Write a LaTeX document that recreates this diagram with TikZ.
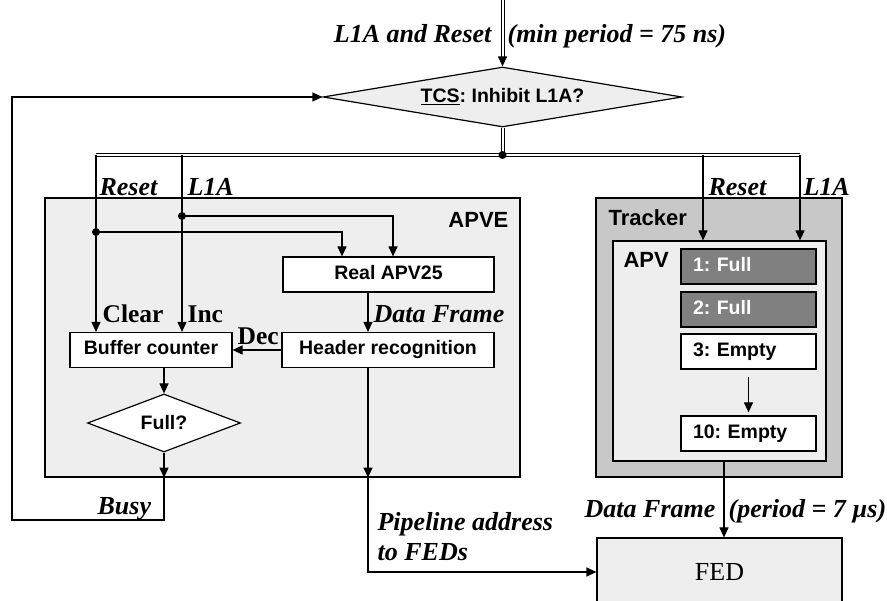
\documentclass[tikz,border=0pt]{standalone}
\usepackage{fontspec}
\setmainfont{Liberation Serif}
\setsansfont{Liberation Sans}
\usetikzlibrary{shapes.geometric,arrows.meta}
\definecolor{lgray}{HTML}{EEEEEE}
\definecolor{mgray}{HTML}{C8C8C8}
\definecolor{dgray}{HTML}{808080}
\begin{document}
\frenchspacing
\begin{tikzpicture}[x=1pt,y=-1pt,
 line width=1.2pt,
 arr/.style={-{Triangle[length=10pt,width=9pt]}},
 dbl/.style={double=white,double distance=2pt,line width=1pt},
 lab/.style={font=\fontsize{26}{28}\selectfont\bfseries\itshape, inner sep=0},
 ulab/.style={font=\fontsize{25.5}{28}\selectfont\bfseries, inner sep=0},
 slab/.style={font=\sffamily\bfseries\fontsize{22}{24}\selectfont, inner sep=0},
 box/.style={draw, fill=white, line width=1.2pt, minimum height=35pt, inner sep=0, text height=14pt, text depth=4pt,
   font=\sffamily\bfseries\fontsize{19.5}{21}\selectfont},
 cell/.style={box, text width=111pt, align=left, inner xsep=12pt, inner ysep=0pt, minimum height=35pt},
 frame/.style={draw, line width=1.2pt, inner sep=0},
 dot/.style={circle, fill, inner sep=0, minimum size=8pt}
]
\useasboundingbox (0,0) rectangle (887,601);

% containers
\node[frame, fill=lgray, minimum width=475pt, minimum height=279pt] (apve) at (282.5,337.5) {};
\node[frame, fill=mgray, minimum width=246pt, minimum height=279pt] (tracker) at (719,337.5) {};
\node[frame, fill=lgray, minimum width=213pt, minimum height=220pt] (apv) at (719.5,351) {};
\node[frame, fill=lgray, minimum width=245pt, minimum height=68pt, font=\fontsize{26}{28}\selectfont] (fed) at (719.5,572) {FED};

% diamonds
\node[draw, diamond, aspect=6, fill=lgray, line width=1.2pt, minimum width=359pt, minimum height=60pt, inner sep=0,
  font=\sffamily\bfseries\fontsize{19.5}{21}\selectfont] (tcs) at (502.5,97) {\underline{TCS}: Inhibit L1A?};
\node[draw, diamond, aspect=2.6, fill=white, line width=1.2pt, minimum width=153pt, minimum height=58pt, inner sep=0,
  font=\sffamily\bfseries\fontsize{19.5}{21}\selectfont] (full) at (164,423) {Full?};

% boxes
\node[box, minimum width=211pt] (apv25) at (388.5,274.5) {Real APV25};
\node[box, minimum width=162pt] (buf) at (151,350) {Buffer counter};
\node[box, minimum width=212pt] (hdr) at (388,350) {Header recognition};
\node[cell, fill=dgray, text=white] (f1) at (748.5,266.5) {1: Full};
\node[cell, fill=dgray, text=white] (f2) at (748.5,309.5) {2: Full};
\node[cell] (e3) at (748.5,351.5) {3: Empty};
\node[cell] (e10) at (748.5,433.5) {10: Empty};

% coordinates
\coordinate (topin) at (502.5,0);
\coordinate (topmid) at (502.5,57);
\coordinate (busj) at (502.5,155);
\coordinate (busL) at (96,155);
\coordinate (busR) at (800,155);
\coordinate (l1aL) at (182,155);
\coordinate (rstR) at (703,155);
\coordinate (a1) at (393,216);
\coordinate (a2) at (342,232);
\coordinate (cx) at (368,0);
\coordinate (tx) at (724,0);
\coordinate (lb) at (12,520);

% top input and bus
\draw[dbl] (topin) -- (topmid);
\draw[arr] (topmid) -- (tcs.north);
\draw[dbl] (tcs.south) -- (busj);
\draw[dbl] (busL) -- (busR);
\node[dot] (dj) at (busj) {};

% APVE signals
\draw[arr] (busL) -- (busL |- buf.north);
\draw[arr] (l1aL) -- (l1aL |- buf.north);
\node[dot] (d1) at (182,216) {};
\node[dot] (d2) at (96,232) {};
\draw[arr] (d1.center) -- (a1) -- (a1 |- apv25.north);
\draw[arr] (d2.center) -- (a2) -- (a2 |- apv25.north);
\draw[arr] (cx |- apv25.south) -- (cx |- hdr.north);
\draw[arr] (hdr.west) -- (buf.east);
\draw[arr] (full.north |- buf.south) -- (full.north);
\draw[arr] (full.south) -- (full.south |- apve.south);
\draw[arr] (full.south |- apve.south) -- (full.south |- lb) -- (lb) -- (lb |- tcs.west) -- (tcs.west);
\draw[arr] (cx |- hdr.south) -- (cx |- apve.south);
\draw[arr] (cx |- apve.south) -- (cx |- fed.west) -- (fed.west);

% tracker signals
\draw[arr] (rstR) -- (rstR |- apv.north);
\draw[arr] (busR) -- (busR |- apv.north);
\draw[arr, shorten <=7pt, shorten >=3pt] (e3.south) -- (e10.north);
\draw[arr] (tx |- apv.south) -- (tx |- fed.north);

% labels
\node[lab, anchor=base east] (tl1) at (492,43) {L1A and Reset};
\node[lab, anchor=base west] (tl2) at (507,43) {(min period = 75 ns)};
\node[lab, anchor=base west] (lr1) at (99,196) {Reset};
\node[lab, anchor=base west] (ll1) at (187,196) {L1A};
\node[lab, anchor=base west] (lr2) at (708,196) {Reset};
\node[lab, anchor=base west] (ll2) at (803,196) {L1A};
\node[ulab, anchor=base west] (lc) at (102,323) {Clear};
\node[ulab, anchor=base west] (li) at (187,323) {Inc};
\node[ulab, anchor=base west] (ld) at (237,345) {Dec};
\node[lab, anchor=base west] (ldf) at (373,323) {Data Frame};
\node[lab, anchor=base west] (lbusy) at (97,515) {Busy};
\node[lab, anchor=base west] (lp1) at (377,531) {Pipeline address};
\node[lab, anchor=base west] (lp2) at (377,561) {to FEDs};
\node[lab, anchor=base east] (ldf2) at (716,518) {Data Frame};
\node[lab, anchor=base west] (lper) at (728,518) {(period = 7 µs)};
\node[slab, anchor=base east] (lapve) at (509,228) {APVE};
\node[slab, anchor=base west] (ltr) at (608,226) {Tracker};
\node[slab, anchor=base west] (lapv) at (623,268) {APV};
\end{tikzpicture}
\end{document}
